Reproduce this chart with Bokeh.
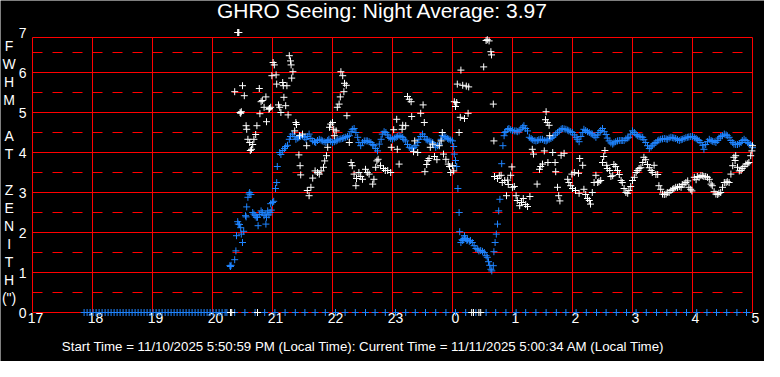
import numpy as np
from bokeh.plotting import figure
from bokeh.models import Label, Range1d
from bokeh.core.properties import value
from bokeh.embed import file_html
from bokeh.resources import INLINE

# ---------------- data (clock hours, FWHM arcsec) ----------------
title_text = "GHRO Seeing: Night Average: 3.97"
footer_text = ("Start Time = 11/10/2025 5:50:59 PM (Local Time): "
               "Current Time = 11/11/2025 5:00:34 AM (Local Time)")
hour_labels = ["17", "18", "19", "20", "21", "22", "23", "0", "1", "2", "3", "4", "5"]
fwhm_ticks = [0, 1, 2, 3, 4, 5, 6, 7]
y_letters = ["F", "W", "H", "M", "", "A", "T", "", "Z", "E", "N", "I", "T", "H", "(\")"]

blue_time = [
    20.29, 20.30, 20.31, 20.37, 20.39, 20.40, 20.42, 20.43, 20.45, 20.47,
    20.48, 20.50, 20.52, 20.55, 20.56, 20.57, 20.59, 20.61, 20.62, 20.64,
    20.67, 20.69, 20.71, 20.73, 20.75, 20.76, 20.78, 20.81, 20.83, 20.86,
    20.89, 20.89, 20.90, 20.92, 20.94, 20.96, 20.97, 20.98, 21.00, 21.02,
    21.05, 21.07, 21.08, 21.12, 21.14, 21.17, 21.20, 21.22, 21.25, 21.28,
    21.30, 21.33, 21.36, 21.39, 21.42, 21.44, 21.47, 21.50, 21.53, 21.56,
    21.58, 21.61, 21.64, 21.67, 21.70, 21.72, 21.75, 21.78, 21.81, 21.83,
    21.86, 21.89, 21.92, 21.94, 21.97, 22.00, 22.03, 22.06, 22.08, 22.11,
    22.14, 22.17, 22.19, 22.22, 22.25, 22.28, 22.31, 22.33, 22.36, 22.39,
    22.42, 22.44, 22.47, 22.50, 22.53, 22.56, 22.58, 22.61, 22.64, 22.67,
    22.69, 22.72, 22.75, 22.78, 22.81, 22.83, 22.86, 22.89, 22.92, 22.94,
    22.97, 23.00, 23.03, 23.06, 23.08, 23.11, 23.14, 23.17, 23.19, 23.22,
    23.25, 23.28, 23.31, 23.33, 23.36, 23.39, 23.42, 23.44, 23.47, 23.50,
    23.53, 23.56, 23.58, 23.61, 23.64, 23.67, 23.69, 23.72, 23.75, 23.78,
    23.81, 23.83, 23.86, 23.89, 23.92, 23.94, 23.97, 0.00, 0.02, 0.03,
    0.05, 0.07, 0.09, 0.11, 0.12, 0.14, 0.16, 0.17, 0.19, 0.20,
    0.22, 0.24, 0.25, 0.28, 0.30, 0.33, 0.36, 0.39, 0.42, 0.44,
    0.47, 0.50, 0.53, 0.56, 0.58, 0.60, 0.62, 0.64, 0.655, 0.68,
    0.69, 0.71, 0.73, 0.75, 0.77, 0.79, 0.82, 0.84, 0.86, 0.87,
    0.89, 0.92, 0.94, 0.97, 1.00, 1.03, 1.06, 1.08, 1.11, 1.14,
    1.17, 1.19, 1.22, 1.25, 1.28, 1.31, 1.33, 1.36, 1.39, 1.42,
    1.44, 1.47, 1.50, 1.53, 1.56, 1.58, 1.61, 1.64, 1.67, 1.69,
    1.72, 1.75, 1.78, 1.81, 1.83, 1.86, 1.89, 1.92, 1.94, 1.97,
    2.00, 2.03, 2.06, 2.08, 2.11, 2.14, 2.17, 2.19, 2.22, 2.25,
    2.28, 2.31, 2.33, 2.36, 2.39, 2.42, 2.44, 2.47, 2.50, 2.53,
    2.56, 2.58, 2.61, 2.64, 2.67, 2.69, 2.72, 2.75, 2.78, 2.81,
    2.83, 2.86, 2.89, 2.92, 2.94, 2.97, 3.00, 3.03, 3.06, 3.08,
    3.11, 3.14, 3.17, 3.19, 3.22, 3.25, 3.28, 3.31, 3.33, 3.36,
    3.39, 3.42, 3.44, 3.47, 3.50, 3.53, 3.56, 3.58, 3.61, 3.64,
    3.67, 3.69, 3.72, 3.75, 3.78, 3.81, 3.83, 3.86, 3.89, 3.92,
    3.94, 3.97, 4.00, 4.03, 4.06, 4.08, 4.11, 4.14, 4.17, 4.19,
    4.22, 4.25, 4.28, 4.31, 4.33, 4.36, 4.39, 4.42, 4.44, 4.47,
    4.50, 4.53, 4.56, 4.58, 4.61, 4.64, 4.67, 4.69, 4.72, 4.75,
    4.78, 4.81, 4.83, 4.86, 4.89, 4.92, 4.94, 4.97, 5.00,
]
blue_fwhm = [
    1.17, 1.15, 1.18, 1.32, 1.54, 1.92, 2.27, 2.21, 2.20, 2.12,
    1.96, 1.75, 2.03, 2.42, 2.39, 2.64, 2.88, 2.96, 3.00, 2.95,
    2.50, 2.46, 2.42, 2.38, 2.38, 2.17, 2.45, 2.54, 2.50, 2.42,
    2.46, 2.21, 2.38, 2.54, 2.44, 2.50, 2.72, 2.56, 2.75, 2.78,
    3.10, 3.25, 3.65, 4.00, 3.95, 4.05, 4.10, 4.15, 4.18, 4.33,
    4.40, 4.46, 4.40, 4.33, 4.36, 4.38, 4.40, 4.42, 4.38, 4.33,
    4.40, 4.46, 4.35, 4.29, 4.27, 4.25, 4.30, 4.33, 4.31, 4.29,
    4.27, 4.25, 4.30, 4.33, 4.28, 4.25, 4.27, 4.29, 4.31, 4.33,
    4.34, 4.35, 4.37, 4.38, 4.40, 4.42, 4.52, 4.58, 4.60, 4.50,
    4.38, 4.25, 4.17, 4.25, 4.29, 4.29, 4.29, 4.27, 4.25, 4.20,
    4.17, 4.10, 4.04, 4.21, 4.33, 4.46, 4.52, 4.50, 4.44, 4.38,
    4.35, 4.33, 4.36, 4.38, 4.40, 4.42, 4.40, 4.38, 4.33, 4.29,
    4.20, 4.13, 4.11, 4.10, 4.13, 4.17, 4.25, 4.33, 4.40, 4.46,
    4.40, 4.33, 4.31, 4.29, 4.27, 4.25, 4.19, 4.13, 4.17, 4.21,
    4.33, 4.42, 4.40, 4.38, 4.35, 4.33, 4.31, 4.29, 4.15, 3.96,
    3.80, 3.65, 3.10, 2.50, 2.02, 1.75, 1.82, 1.80, 1.85, 1.92,
    1.85, 1.80, 1.82, 1.78, 1.80, 1.75, 1.67, 1.60, 1.58, 1.54,
    1.55, 1.53, 1.50, 1.42, 1.38, 1.27, 1.18, 1.08, 1.04, 1.17,
    1.52, 1.75, 1.96, 2.21, 2.54, 2.83, 3.72, 4.17, 4.42, 4.50,
    4.52, 4.58, 4.60, 4.57, 4.55, 4.54, 4.54, 4.52, 4.54, 4.58,
    4.63, 4.67, 4.60, 4.54, 4.38, 4.35, 4.32, 4.30, 4.29, 4.30,
    4.32, 4.33, 4.33, 4.30, 4.29, 4.31, 4.33, 4.35, 4.38, 4.42,
    4.46, 4.50, 4.54, 4.58, 4.60, 4.59, 4.58, 4.56, 4.54, 4.52,
    4.50, 4.44, 4.38, 4.33, 4.27, 4.40, 4.50, 4.58, 4.55, 4.52,
    4.50, 4.47, 4.46, 4.42, 4.38, 4.44, 4.50, 4.55, 4.60, 4.52,
    4.45, 4.36, 4.29, 4.24, 4.21, 4.24, 4.27, 4.29, 4.30, 4.30,
    4.30, 4.30, 4.34, 4.36, 4.38, 4.46, 4.54, 4.50, 4.45, 4.42,
    4.40, 4.39, 4.38, 4.32, 4.25, 4.17, 4.10, 4.14, 4.18, 4.22,
    4.25, 4.29, 4.31, 4.33, 4.34, 4.35, 4.34, 4.33, 4.36, 4.38,
    4.37, 4.36, 4.35, 4.32, 4.30, 4.32, 4.33, 4.35, 4.37, 4.38,
    4.39, 4.40, 4.40, 4.37, 4.35, 4.32, 4.30, 4.25, 4.18, 4.08,
    4.20, 4.27, 4.33, 4.30, 4.28, 4.27, 4.25, 4.30, 4.36, 4.40,
    4.42, 4.46, 4.44, 4.42, 4.38, 4.30, 4.25, 4.21, 4.20, 4.20,
    4.22, 4.25, 4.30, 4.33, 4.30, 4.25, 4.22, 4.20, 4.12,
]

white_time = [
    20.42, 20.43, 20.44, 20.37, 20.50, 20.53, 20.46, 20.48, 20.47, 20.56,
    20.57, 20.59, 20.62, 20.67, 20.63, 20.65, 20.69, 20.72, 20.74, 20.78,
    20.79, 20.81, 20.83, 20.86, 20.89, 20.90, 20.94, 20.95, 20.97, 20.99,
    21.01, 21.03, 21.06, 21.07, 21.10, 21.12, 21.14, 21.17, 21.18, 21.19,
    21.22, 21.24, 21.26, 21.28, 21.30, 21.31, 21.34, 21.32, 21.39, 21.40,
    21.37, 21.45, 21.50, 21.57, 21.44, 21.46, 21.47, 21.58, 21.61, 21.64,
    21.67, 21.71, 21.75, 21.78, 21.81, 21.85, 21.87, 21.90, 21.92, 21.95,
    21.97, 22.00, 22.02, 22.03, 22.06, 22.08, 22.11, 22.13, 22.14, 22.17,
    22.20, 22.23, 22.19, 22.24, 22.28, 22.31, 22.33, 22.36, 22.40, 22.39,
    22.44, 22.47, 22.50, 22.55, 22.58, 22.61, 22.67, 22.69, 22.72, 22.74,
    22.76, 22.80, 22.85, 22.88, 22.92, 22.97, 22.98, 23.02, 23.07, 23.08,
    23.11, 23.17, 23.22, 23.16, 23.25, 23.28, 23.31, 23.32, 23.35, 23.37,
    23.42, 23.47, 23.51, 23.53, 23.54, 23.57, 23.59, 23.61, 23.63, 23.67,
    23.70, 23.74, 23.78, 23.81, 23.83, 23.85, 23.89, 23.93, 23.95, 23.97,
    0.00, 0.02, 0.03, 0.05, 0.07, 0.08, 0.11, 0.13, 0.14, 0.17,
    0.20, 0.23, 0.26, 0.27, 0.52, 0.56, 0.58, 0.61, 0.64, 0.65,
    0.68, 0.69, 0.70, 0.75, 0.78, 0.81, 0.83, 0.87, 0.90, 0.92,
    0.93, 0.97, 0.99, 1.00, 1.03, 1.06, 1.08, 1.12, 1.15, 1.18,
    1.22, 1.25, 1.29, 1.33, 1.35, 1.41, 1.45, 1.47, 1.50, 1.53,
    1.56, 1.55, 1.58, 1.61, 1.62, 1.59, 1.67, 1.71, 1.72, 1.75,
    1.77, 1.79, 1.81, 1.86, 1.92, 1.94, 1.97, 1.99, 2.03, 2.00,
    2.05, 2.11, 2.12, 2.17, 2.10, 2.19, 2.22, 2.25, 2.28, 2.30,
    2.33, 2.36, 2.39, 2.42, 2.44, 2.47, 2.50, 2.52, 2.54, 2.57,
    2.58, 2.62, 2.64, 2.67, 2.69, 2.72, 2.75, 2.78, 2.81, 2.83,
    2.86, 2.89, 2.92, 2.94, 2.97, 3.00, 3.03, 3.06, 3.08, 3.11,
    3.14, 3.17, 3.19, 3.22, 3.25, 3.28, 3.31, 3.33, 3.36, 3.39,
    3.42, 3.44, 3.47, 3.50, 3.53, 3.56, 3.58, 3.61, 3.64, 3.67,
    3.69, 3.72, 3.75, 3.78, 3.81, 3.83, 3.86, 3.89, 3.92, 3.94,
    3.97, 3.99, 4.03, 4.06, 4.08, 4.11, 4.14, 4.17, 4.19, 4.22,
    4.25, 4.28, 4.31, 4.33, 4.36, 4.39, 4.42, 4.44, 4.47, 4.50,
    4.53, 4.56, 4.58, 4.61, 4.64, 4.67, 4.69, 4.71, 4.72, 4.75,
    4.78, 4.81, 4.83, 4.86, 4.89, 4.92, 4.94, 4.97, 4.99, 5.00,
]
white_fwhm = [
    7.00, 7.00, 7.00, 5.52, 5.67, 5.42, 5.00, 5.02, 4.98, 4.67,
    4.58, 4.33, 4.25, 4.20, 4.05, 4.08, 4.33, 4.45, 4.67, 5.60,
    4.97, 5.27, 5.30, 5.13, 5.39, 4.77, 5.08, 5.10, 5.13, 5.92,
    6.25, 6.19, 5.94, 5.71, 5.19, 5.13, 5.00, 5.75, 5.67, 5.38,
    5.17, 5.67, 4.94, 6.42, 6.29, 6.19, 6.02, 5.86, 4.75, 4.70,
    4.54, 4.42, 4.46, 4.17, 3.94, 3.67, 3.44, 3.05, 2.92, 3.13,
    3.36, 3.54, 3.50, 3.46, 3.54, 3.63, 3.79, 3.92, 4.13, 4.63,
    4.71, 4.75, 4.58, 4.42, 4.54, 5.13, 5.21, 5.39, 6.02, 5.92,
    5.73, 5.68, 5.52, 4.92, 4.25, 3.75, 3.67, 3.46, 3.35, 3.17,
    3.50, 3.40, 3.33, 3.58, 3.50, 3.46, 3.21, 3.33, 3.63, 3.79,
    3.83, 3.67, 3.60, 3.55, 3.55, 3.50, 4.13, 4.57, 4.83, 4.08,
    3.71, 4.68, 4.67, 4.58, 5.40, 5.33, 5.27, 4.90, 4.02, 4.29,
    4.00, 4.98, 5.19, 4.75, 3.52, 3.70, 3.80, 3.85, 4.13, 4.21,
    3.90, 3.82, 4.17, 4.29, 4.50, 3.96, 3.83, 3.71, 3.65, 3.50,
    3.67, 3.54, 5.27, 5.15, 5.25, 5.71, 4.50, 4.88, 6.06, 5.68,
    4.85, 5.66, 4.98, 5.64, 6.14, 6.80, 6.82, 6.79, 6.52, 6.44,
    5.21, 4.29, 3.40, 3.35, 3.42, 3.43, 3.25, 3.30, 2.92, 3.31,
    3.20, 3.43, 3.64, 3.13, 3.15, 2.92, 2.80, 2.67, 2.75, 2.85,
    2.70, 2.65, 2.90, 4.08, 3.96, 3.21, 3.58, 3.65, 3.71, 4.04,
    5.02, 4.82, 4.75, 4.68, 4.42, 3.75, 4.00, 3.75, 3.52, 3.13,
    2.92, 2.79, 3.93, 3.98, 3.33, 3.25, 3.17, 3.46, 3.50, 3.10,
    3.05, 2.98, 3.85, 3.68, 3.48, 3.08, 2.95, 2.85, 2.80, 2.71,
    3.00, 3.25, 3.43, 3.25, 3.27, 3.30, 3.75, 3.90, 4.05, 3.68,
    3.60, 3.55, 3.40, 3.42, 3.70, 3.65, 3.55, 3.45, 3.30, 3.25,
    3.10, 3.00, 2.98, 3.05, 3.15, 3.30, 3.38, 3.50, 3.55, 3.60,
    3.62, 3.75, 3.88, 3.82, 3.70, 3.62, 3.55, 3.50, 3.68, 3.45,
    3.45, 3.17, 3.08, 2.96, 2.95, 2.96, 3.00, 3.00, 3.05, 3.08,
    3.10, 3.13, 3.13, 3.15, 3.13, 3.20, 3.21, 3.25, 3.29, 3.13,
    3.08, 3.04, 3.38, 3.32, 3.40, 3.38, 3.42, 3.42, 3.40, 3.40,
    3.38, 3.33, 3.21, 3.17, 3.02, 2.96, 2.95, 2.98, 3.00, 3.13,
    3.25, 3.25, 3.27, 3.25, 3.46, 3.67, 3.88, 3.80, 3.92, 3.63,
    3.54, 3.55, 3.60, 3.65, 3.71, 3.72, 3.75, 3.92, 4.04, 4.17,
]

# readings that came back as zero (no measurement)
blue_zero_time = [
    17.86, 17.91, 17.96, 18.01, 18.06, 18.11, 18.16, 18.21, 18.26, 18.31,
    18.36, 18.41, 18.46, 18.51, 18.56, 18.61, 18.66, 18.71, 18.76, 18.81,
    18.86, 18.91, 18.96, 19.01, 19.06, 19.11, 19.16, 19.21, 19.26, 19.31,
    19.36, 19.41, 19.46, 19.51, 19.56, 19.61, 19.66, 19.71, 19.76, 19.81,
    19.86, 19.91, 19.96, 20.01, 20.06, 20.11, 20.16, 20.21, 20.24,
    20.37, 20.54, 20.71, 20.87, 21.04, 21.21, 21.38, 21.54, 21.71, 21.88,
    22.05, 22.21, 22.38, 22.55, 22.71, 22.88, 23.05, 23.22, 23.38, 23.55,
    23.72, 23.89, 0.05, 0.22, 0.39, 0.56, 0.72, 0.89, 1.06, 1.22,
    1.39, 1.56, 1.73, 1.89, 2.06, 2.23, 2.40, 2.56, 2.73, 2.90,
    3.06, 3.23, 3.40, 3.57, 3.73, 3.90, 4.07, 4.24, 4.40, 4.57,
    4.74, 4.90,
]
white_zero_time = [20.30, 20.32, 20.75, 0.32, 0.35, 0.44, 0.47]

BLUE = "#1f84ff"
WHITE = "#ffffff"
RED = "#ff0000"
FONT = "Liberation Sans"
PLOT_TOP = 6.875   # upper edge of the red frame


def to_x(clock):
    c = np.asarray(clock, dtype=float)
    return np.where(c >= 12, c - 17, c + 7)


hour_ticks = list(range(len(hour_labels)))
n_h = len(hour_ticks)

# The whole canvas is the data frame (60 px per hour, 40 px per arcsec),
# so that texts outside the plotting box are not clipped.
p = figure(width=764, height=361,
           x_range=Range1d(-32 / 60, 732 / 60), y_range=Range1d(-49 / 40, 312 / 40),
           output_backend="svg", toolbar_location=None,
           x_axis_location=None, y_axis_location=None,
           min_border=0, min_border_left=0, min_border_right=0,
           min_border_top=0, min_border_bottom=0,
           background_fill_color="black", border_fill_color="black")
p.outline_line_color = None
p.grid.visible = False

# grid (solid every unit, dashed every half unit, frame)
solid_y = [t for t in fwhm_ticks if t < PLOT_TOP] + [PLOT_TOP]
p.segment(x0=[hour_ticks[0]] * len(solid_y), y0=solid_y,
          x1=[hour_ticks[-1]] * len(solid_y), y1=solid_y,
          line_color=RED, line_width=1)
half_y = [t + 0.5 for t in fwhm_ticks if t + 0.5 < PLOT_TOP]
p.segment(x0=[hour_ticks[0]] * len(half_y), y0=half_y,
          x1=[hour_ticks[-1]] * len(half_y), y1=half_y,
          line_color=RED, line_width=1, line_dash="10 10")
p.segment(x0=hour_ticks, y0=[0] * n_h, x1=hour_ticks, y1=[PLOT_TOP] * n_h,
          line_color=RED, line_width=1)

# tick labels
p.text(x=[h + 0.05 for h in hour_ticks], y=[0.0] * n_h, text=hour_labels,
       text_align="center", text_baseline="top", text_color=WHITE,
       text_font=value(FONT), text_font_size="14px")
p.text(x=[-0.1] * len(fwhm_ticks), y=fwhm_ticks, text=[str(t) for t in fwhm_ticks],
       text_align="right", text_baseline="middle", text_color=WHITE,
       text_font=value(FONT), text_font_size="14px")

# data
p.scatter(to_x(blue_zero_time), [0] * len(blue_zero_time), marker="cross", size=7,
          line_color=BLUE, line_width=1)
p.scatter(to_x(blue_time), blue_fwhm, marker="cross", size=7, line_color=BLUE, line_width=1)
p.scatter(to_x(white_zero_time), [0] * len(white_zero_time), marker="cross", size=7,
          line_color=WHITE, line_width=1)
p.scatter(to_x(white_time), white_fwhm, marker="cross", size=7, line_color=WHITE, line_width=1)

# texts
p.add_layout(Label(x=5.833, y=7.55, text=title_text, text_align="center",
                   text_baseline="middle", text_color=WHITE, text_font=FONT,
                   text_font_size="21px"))
p.add_layout(Label(x=5.517, y=-0.85, text=footer_text, text_align="center",
                   text_baseline="middle", text_color=WHITE, text_font=FONT,
                   text_font_size="13.3px"))
for k, ch in enumerate(y_letters):
    if not ch:
        continue
    py = 53.3 + 18 * k
    p.add_layout(Label(x=-0.39, y=(320 - py) / 40, text=ch, text_align="center",
                       text_baseline="middle", text_color=WHITE, text_font=FONT,
                       text_font_size="14px"))

open("out.html", "w").write(file_html(p, INLINE))
